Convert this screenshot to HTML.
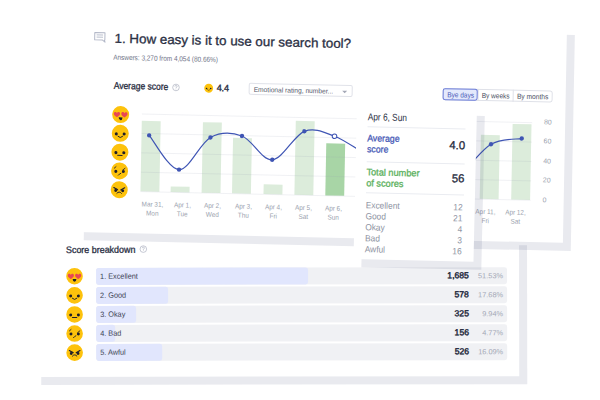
<!DOCTYPE html>
<html><head><meta charset="utf-8"><style>
html,body{margin:0;padding:0;background:#fff}
body{width:600px;height:400px;position:relative;overflow:hidden;font-family:"Liberation Sans", sans-serif}
</style></head><body>
<div style="position:absolute;left:33px;top:238px;width:486px;height:139px;transform:rotate(-0.1deg);transform-origin:0 0"><div style="position:absolute;left:8px;top:8px;width:486px;height:139px;background:rgba(25,35,90,0.095)"></div><div style="position:absolute;left:0;top:0;width:486px;height:139px;background:#fff"></div><div style="position:absolute;left:33.20px;top:7.19px;font-size:9.4px;line-height:9.4px;font-weight:400;color:#2b3044;white-space:nowrap;transform:scaleX(0.95);transform-origin:left 50%;-webkit-text-stroke:0.32px #2b3044;">Score breakdown</div><svg style="position:absolute;left:106.00px;top:7.20px;overflow:visible" width="8.60" height="8.60" viewBox="-4.3 -4.3 8.6 8.6"><circle cx="0" cy="0" r="3.3" fill="none" stroke="#aeb2c1" stroke-width="0.7"/><path d="M-1.1,-0.9 Q-1.1,-2 0,-2 Q1.1,-2 1.1,-1 Q1.1,-0.3 0,0.2 L0,0.8" fill="none" stroke="#aeb2c1" stroke-width="0.7"/><circle cx="0" cy="1.6" r="0.4" fill="#aeb2c1"/></svg><div style="position:absolute;left:62.5px;top:30.00px;width:411.5px;height:16.6px;background:#f0f1f4;border-radius:2.5px"></div><div style="position:absolute;left:62.5px;top:30.00px;width:212.05px;height:16.6px;background:#e1e6fd;border-radius:2.5px"></div><div style="position:absolute;left:67.00px;top:34.83px;font-size:7.7px;line-height:7.7px;font-weight:400;color:#3a3f52;white-space:nowrap;transform:scaleX(0.95);transform-origin:left 50%;">1. Excellent</div><div style="position:absolute;left:435.80px;top:33.87px;font-size:8.6px;line-height:8.6px;font-weight:400;color:#262b3d;white-space:nowrap;transform:translateX(-100%) scaleX(1.0);transform-origin:right 50%;-webkit-text-stroke:0.45px #262b3d;">1,685</div><div style="position:absolute;left:470.00px;top:34.99px;font-size:7.4px;line-height:7.4px;font-weight:400;color:#a3a7b4;white-space:nowrap;transform:translateX(-100%) scaleX(1.0);transform-origin:right 50%;">51.53%</div><div style="position:absolute;left:62.5px;top:49.10px;width:411.5px;height:16.6px;background:#f0f1f4;border-radius:2.5px"></div><div style="position:absolute;left:62.5px;top:49.10px;width:72.75px;height:16.6px;background:#e1e6fd;border-radius:2.5px"></div><div style="position:absolute;left:67.00px;top:53.93px;font-size:7.7px;line-height:7.7px;font-weight:400;color:#3a3f52;white-space:nowrap;transform:scaleX(0.95);transform-origin:left 50%;">2. Good</div><div style="position:absolute;left:435.80px;top:52.97px;font-size:8.6px;line-height:8.6px;font-weight:400;color:#262b3d;white-space:nowrap;transform:translateX(-100%) scaleX(1.0);transform-origin:right 50%;-webkit-text-stroke:0.45px #262b3d;">578</div><div style="position:absolute;left:470.00px;top:54.09px;font-size:7.4px;line-height:7.4px;font-weight:400;color:#a3a7b4;white-space:nowrap;transform:translateX(-100%) scaleX(1.0);transform-origin:right 50%;">17.68%</div><div style="position:absolute;left:62.5px;top:68.20px;width:411.5px;height:16.6px;background:#f0f1f4;border-radius:2.5px"></div><div style="position:absolute;left:62.5px;top:68.20px;width:40.90px;height:16.6px;background:#e1e6fd;border-radius:2.5px"></div><div style="position:absolute;left:67.00px;top:73.03px;font-size:7.7px;line-height:7.7px;font-weight:400;color:#3a3f52;white-space:nowrap;transform:scaleX(0.95);transform-origin:left 50%;">3. Okay</div><div style="position:absolute;left:435.80px;top:72.07px;font-size:8.6px;line-height:8.6px;font-weight:400;color:#262b3d;white-space:nowrap;transform:translateX(-100%) scaleX(1.0);transform-origin:right 50%;-webkit-text-stroke:0.45px #262b3d;">325</div><div style="position:absolute;left:470.00px;top:73.19px;font-size:7.4px;line-height:7.4px;font-weight:400;color:#a3a7b4;white-space:nowrap;transform:translateX(-100%) scaleX(1.0);transform-origin:right 50%;">9.94%</div><div style="position:absolute;left:62.5px;top:87.30px;width:411.5px;height:16.6px;background:#f0f1f4;border-radius:2.5px"></div><div style="position:absolute;left:62.5px;top:87.30px;width:19.63px;height:16.6px;background:#e1e6fd;border-radius:2.5px"></div><div style="position:absolute;left:67.00px;top:92.13px;font-size:7.7px;line-height:7.7px;font-weight:400;color:#3a3f52;white-space:nowrap;transform:scaleX(0.95);transform-origin:left 50%;">4. Bad</div><div style="position:absolute;left:435.80px;top:91.17px;font-size:8.6px;line-height:8.6px;font-weight:400;color:#262b3d;white-space:nowrap;transform:translateX(-100%) scaleX(1.0);transform-origin:right 50%;-webkit-text-stroke:0.45px #262b3d;">156</div><div style="position:absolute;left:470.00px;top:92.29px;font-size:7.4px;line-height:7.4px;font-weight:400;color:#a3a7b4;white-space:nowrap;transform:translateX(-100%) scaleX(1.0);transform-origin:right 50%;">4.77%</div><div style="position:absolute;left:62.5px;top:106.40px;width:411.5px;height:16.6px;background:#f0f1f4;border-radius:2.5px"></div><div style="position:absolute;left:62.5px;top:106.40px;width:66.21px;height:16.6px;background:#e1e6fd;border-radius:2.5px"></div><div style="position:absolute;left:67.00px;top:111.23px;font-size:7.7px;line-height:7.7px;font-weight:400;color:#3a3f52;white-space:nowrap;transform:scaleX(0.95);transform-origin:left 50%;">5. Awful</div><div style="position:absolute;left:435.80px;top:110.27px;font-size:8.6px;line-height:8.6px;font-weight:400;color:#262b3d;white-space:nowrap;transform:translateX(-100%) scaleX(1.0);transform-origin:right 50%;-webkit-text-stroke:0.45px #262b3d;">526</div><div style="position:absolute;left:470.00px;top:111.39px;font-size:7.4px;line-height:7.4px;font-weight:400;color:#a3a7b4;white-space:nowrap;transform:translateX(-100%) scaleX(1.0);transform-origin:right 50%;">16.09%</div><svg style="position:absolute;left:0;top:0;overflow:visible" width="486" height="139" viewBox="0 0 486 139"><g transform="translate(33.150,30.000) scale(0.8300)"><circle cx="10" cy="10" r="10" fill="#fdc20c"/><path transform="translate(5.6,10.0)" d="M0,-1.6 C-0.6,-3.4 -3.7,-3.6 -3.7,-0.9 C-3.7,1.1 -1.2,2.4 0,3.4 C1.2,2.4 3.7,1.1 3.7,-0.9 C3.7,-3.6 0.6,-3.4 0,-1.6Z" fill="#e84655"/><path transform="translate(14.4,10.0)" d="M0,-1.6 C-0.6,-3.4 -3.7,-3.6 -3.7,-0.9 C-3.7,1.1 -1.2,2.4 0,3.4 C1.2,2.4 3.7,1.1 3.7,-0.9 C3.7,-3.6 0.6,-3.4 0,-1.6Z" fill="#e84655"/><path d="M7.7,13.3 L12.3,13.3 Q12.0,16.6 10,16.6 Q8.0,16.6 7.7,13.3Z" fill="#1d1d2b"/></g><g transform="translate(33.150,49.100) scale(0.8300)"><circle cx="10" cy="10" r="10" fill="#fdc20c"/><circle cx="5.3" cy="10.7" r="1.8" fill="#1d1d2b"/><circle cx="14.6" cy="10.7" r="1.8" fill="#1d1d2b"/><path d="M7.3,13.6 Q10,16.6 12.8,13.6" stroke="#1d1d2b" stroke-width="1.15" fill="none" stroke-linecap="round" stroke-linejoin="round"/></g><g transform="translate(33.150,68.200) scale(0.8300)"><circle cx="10" cy="10" r="10" fill="#fdc20c"/><circle cx="5.3" cy="10.7" r="1.8" fill="#1d1d2b"/><circle cx="14.6" cy="10.7" r="1.8" fill="#1d1d2b"/><path d="M7.4,13.8 L12.6,13.8" stroke="#1d1d2b" stroke-width="1.25" fill="none" stroke-linecap="round" stroke-linejoin="round"/></g><g transform="translate(33.150,87.300) scale(0.8300)"><circle cx="10" cy="10" r="10" fill="#fdc20c"/><circle cx="5.6" cy="10.6" r="1.8" fill="#1d1d2b"/><circle cx="14.5" cy="10.6" r="1.8" fill="#1d1d2b"/><path d="M3.7,6.9 L5.7,5.1" stroke="#1d1d2b" stroke-width="1.0" fill="none" stroke-linecap="round" stroke-linejoin="round"/><path d="M13.6,8.9 L16.3,6.8" stroke="#1d1d2b" stroke-width="1.0" fill="none" stroke-linecap="round" stroke-linejoin="round"/><path d="M8.6,15.0 Q9.6,13.6 11.5,12.7" stroke="#1d1d2b" stroke-width="1.1" fill="none" stroke-linecap="round" stroke-linejoin="round"/></g><g transform="translate(33.150,106.400) scale(0.8300)"><circle cx="10" cy="10" r="10" fill="#fdc20c"/><circle cx="5.9" cy="11.0" r="1.75" fill="#1d1d2b"/><circle cx="14.1" cy="11.0" r="1.75" fill="#1d1d2b"/><path d="M3.2,7.3 L8.6,10.4 L8.2,9.2 Z" fill="#1d1d2b"/><path d="M3.6,7.5 L8.2,10.2" stroke="#1d1d2b" stroke-width="1.3" fill="none" stroke-linecap="round" stroke-linejoin="round"/><path d="M16.4,7.5 L11.8,10.2" stroke="#1d1d2b" stroke-width="1.3" fill="none" stroke-linecap="round" stroke-linejoin="round"/><path d="M7.3,14.2 Q8.5,12.6 10,12.8 Q11.5,12.6 12.7,14.2" stroke="#1d1d2b" stroke-width="1.15" fill="none" stroke-linecap="round" stroke-linejoin="round"/></g></svg></div><div style="position:absolute;left:80.3px;top:16.25px;width:486.6px;height:215.6px;transform:matrix(1,0.0222,-0.019,1,0,0);transform-origin:0 0"><div style="position:absolute;left:8px;top:8px;width:486.6px;height:215.6px;background:rgba(25,35,90,0.095)"></div><div style="position:absolute;left:0;top:0;width:486.6px;height:215.6px;background:#fff"></div><div style="position:absolute;left:0.8px;top:0.6px;width:0;height:0"><svg style="position:absolute;left:13.20px;top:14.40px" width="13" height="12" viewBox="0 0 13 12"><path d="M1.1,1.1 H11.3 V8.5 H10.9 L11.5,10.6 L9.0,8.5 H1.1 Z" fill="#fff" stroke="#b3b8c8" stroke-width="1.0" stroke-linejoin="round"/><path d="M3,3.5 H9.4 M3,5.7 H9.4" stroke="#b3b8c8" stroke-width="0.9"/></svg><div style="position:absolute;left:34.00px;top:14.25px;font-size:13px;line-height:13px;font-weight:400;color:#2b3044;white-space:nowrap;transform:scaleX(1.026);transform-origin:left 50%;-webkit-text-stroke:0.32px #2b3044;">1. How easy is it to use our search tool?</div><div style="position:absolute;left:33.30px;top:36.29px;font-size:7.4px;line-height:7.4px;font-weight:400;color:#6f7487;white-space:nowrap;transform:scaleX(0.87);transform-origin:left 50%;">Answers: 3,270 from 4,054 (80.66%)</div><div style="position:absolute;left:33.90px;top:63.12px;font-size:9.6px;line-height:9.6px;font-weight:400;color:#2b3044;white-space:nowrap;transform:scaleX(0.885);transform-origin:left 50%;-webkit-text-stroke:0.32px #2b3044;">Average score</div><svg style="position:absolute;left:92.00px;top:64.10px;overflow:visible" width="8.60" height="8.60" viewBox="-4.3 -4.3 8.6 8.6"><circle cx="0" cy="0" r="3.3" fill="none" stroke="#aeb2c1" stroke-width="0.7"/><path d="M-1.1,-0.9 Q-1.1,-2 0,-2 Q1.1,-2 1.1,-1 Q1.1,-0.3 0,0.2 L0,0.8" fill="none" stroke="#aeb2c1" stroke-width="0.7"/><circle cx="0" cy="1.6" r="0.4" fill="#aeb2c1"/></svg><div style="position:absolute;left:137.00px;top:63.79px;font-size:9.4px;line-height:9.4px;font-weight:400;color:#2b3044;white-space:nowrap;transform:scaleX(0.95);transform-origin:left 50%;-webkit-text-stroke:0.4px #2b3044;">4.4</div><div style="position:absolute;left:169.3px;top:62.6px;width:104px;height:12.2px;box-sizing:border-box;border:0.8px solid #e0e2e9;border-radius:2px;background:#fff"></div><div style="position:absolute;left:174.05px;top:65.31px;font-size:7.0px;line-height:7.0px;font-weight:400;color:#555a6c;white-space:nowrap;transform:scaleX(0.95);transform-origin:left 50%;">Emotional rating, number...</div><svg style="position:absolute;left:262.31px;top:67.06px" width="6" height="4" viewBox="0 0 6 4"><path d="M0.5,0.8 L5.5,0.8 L3,3.3Z" fill="#a4a8b6"/></svg><div style="position:absolute;left:363.5px;top:63.4px;width:110px;height:12.2px;box-sizing:border-box;border:0.8px solid #dfe1e8;border-radius:2.5px;background:#fff"></div><div style="position:absolute;left:398.6px;top:63.4px;width:0.8px;height:12.2px;background:#dfe1e8"></div><div style="position:absolute;left:433.4px;top:63.4px;width:0.8px;height:12.2px;background:#dfe1e8"></div><div style="position:absolute;left:363.5px;top:63.4px;width:35.1px;height:12.2px;box-sizing:border-box;border:0.9px solid #6a7bd8;border-radius:2.5px;background:#e4e9fc"></div><div style="position:absolute;left:381.00px;top:66.29px;font-size:7.4px;line-height:7.4px;font-weight:400;color:#4a5bb8;white-space:nowrap;transform:translateX(-50%) scaleX(0.88);transform-origin:center 50%;">Bye days</div><div style="position:absolute;left:416.00px;top:66.29px;font-size:7.4px;line-height:7.4px;font-weight:400;color:#4a4f62;white-space:nowrap;transform:translateX(-50%) scaleX(0.88);transform-origin:center 50%;">By weeks</div><div style="position:absolute;left:453.40px;top:66.29px;font-size:7.4px;line-height:7.4px;font-weight:400;color:#4a4f62;white-space:nowrap;transform:translateX(-50%) scaleX(0.9);transform-origin:center 50%;">By months</div><svg style="position:absolute;left:0;top:0" width="486.6" height="215.6" viewBox="0 0 486.6 215.6"><rect x="62.75" y="102.3" width="18.9" height="70.60" fill="#dcecdb"/><rect x="92.90" y="167.3" width="18.9" height="5.60" fill="#dcecdb"/><rect x="123.90" y="102.4" width="18.9" height="70.50" fill="#dcecdb"/><rect x="154.30" y="117.3" width="18.9" height="55.60" fill="#dcecdb"/><rect x="185.80" y="163.1" width="18.9" height="9.80" fill="#dcecdb"/><rect x="216.70" y="99.0" width="18.9" height="73.90" fill="#dcecdb"/><rect x="247.60" y="120.8" width="18.9" height="52.10" fill="#a8d5a6"/><rect x="278.30" y="129.5" width="18.9" height="43.40" fill="#dcecdb"/><rect x="309.20" y="139.5" width="18.9" height="33.40" fill="#dcecdb"/><rect x="340.20" y="149.5" width="18.9" height="23.40" fill="#dcecdb"/><rect x="371.10" y="159.5" width="18.9" height="13.40" fill="#dcecdb"/><rect x="402.00" y="108.8" width="18.9" height="64.10" fill="#dcecdb"/><rect x="433.50" y="97.3" width="18.9" height="75.60" fill="#dcecdb"/><line x1="62.8" y1="95.60" x2="453" y2="95.60" stroke="rgba(150,158,180,0.18)" stroke-width="0.8"/><line x1="62.8" y1="115.00" x2="453" y2="115.00" stroke="rgba(150,158,180,0.18)" stroke-width="0.8"/><line x1="62.8" y1="134.40" x2="453" y2="134.40" stroke="rgba(150,158,180,0.18)" stroke-width="0.8"/><line x1="62.8" y1="153.80" x2="453" y2="153.80" stroke="rgba(150,158,180,0.18)" stroke-width="0.8"/><line x1="62.8" y1="173.20" x2="453" y2="173.20" stroke="rgba(150,158,180,0.18)" stroke-width="0.8"/><path d="M70.40,116.80 C75.48,122.40 90.68,150.28 100.90,150.40 C111.12,150.52 121.32,123.35 131.70,117.50 C142.08,111.65 152.83,111.80 163.20,115.30 C173.57,118.80 183.52,139.50 193.90,138.50 C204.28,137.50 215.20,113.47 225.50,109.30 C235.80,105.13 245.50,109.97 255.70,113.50 C265.90,117.03 276.37,125.00 286.70,130.50 C297.03,136.00 307.35,142.67 317.70,146.50 C328.05,150.33 338.45,153.00 348.80,153.50 C359.15,154.00 369.22,155.40 379.80,149.50 C390.38,143.60 401.78,124.40 412.30,118.10 C422.82,111.80 437.80,112.77 442.90,111.70" fill="none" stroke="#3f55b4" stroke-width="1.2"/><circle cx="70.40" cy="116.80" r="2.2" fill="#3f55b4"/><circle cx="100.90" cy="150.40" r="2.2" fill="#3f55b4"/><circle cx="131.70" cy="117.50" r="2.2" fill="#3f55b4"/><circle cx="163.20" cy="115.30" r="2.2" fill="#3f55b4"/><circle cx="193.90" cy="138.50" r="2.2" fill="#3f55b4"/><circle cx="225.50" cy="109.30" r="2.2" fill="#3f55b4"/><circle cx="255.70" cy="113.50" r="2.3" fill="#fff" stroke="#3f55b4" stroke-width="1"/><circle cx="412.30" cy="118.10" r="2.2" fill="#3f55b4"/><circle cx="442.90" cy="111.70" r="2.2" fill="#3f55b4"/></svg><div style="position:absolute;left:75.00px;top:182.82px;font-size:7.0px;line-height:7.0px;font-weight:400;color:#9a9fae;white-space:nowrap;transform:translateX(-50%) scaleX(0.91);transform-origin:center 50%;">Mar 31,</div><div style="position:absolute;left:75.00px;top:191.12px;font-size:7.0px;line-height:7.0px;font-weight:400;color:#9a9fae;white-space:nowrap;transform:translateX(-50%) scaleX(0.91);transform-origin:center 50%;">Mon</div><div style="position:absolute;left:105.28px;top:182.82px;font-size:7.0px;line-height:7.0px;font-weight:400;color:#9a9fae;white-space:nowrap;transform:translateX(-50%) scaleX(0.91);transform-origin:center 50%;">Apr 1,</div><div style="position:absolute;left:105.28px;top:191.12px;font-size:7.0px;line-height:7.0px;font-weight:400;color:#9a9fae;white-space:nowrap;transform:translateX(-50%) scaleX(0.91);transform-origin:center 50%;">Tue</div><div style="position:absolute;left:135.56px;top:182.82px;font-size:7.0px;line-height:7.0px;font-weight:400;color:#9a9fae;white-space:nowrap;transform:translateX(-50%) scaleX(0.91);transform-origin:center 50%;">Apr 2,</div><div style="position:absolute;left:135.56px;top:191.12px;font-size:7.0px;line-height:7.0px;font-weight:400;color:#9a9fae;white-space:nowrap;transform:translateX(-50%) scaleX(0.91);transform-origin:center 50%;">Wed</div><div style="position:absolute;left:165.84px;top:182.82px;font-size:7.0px;line-height:7.0px;font-weight:400;color:#9a9fae;white-space:nowrap;transform:translateX(-50%) scaleX(0.91);transform-origin:center 50%;">Apr 3,</div><div style="position:absolute;left:165.84px;top:191.12px;font-size:7.0px;line-height:7.0px;font-weight:400;color:#9a9fae;white-space:nowrap;transform:translateX(-50%) scaleX(0.91);transform-origin:center 50%;">Thu</div><div style="position:absolute;left:196.12px;top:182.82px;font-size:7.0px;line-height:7.0px;font-weight:400;color:#9a9fae;white-space:nowrap;transform:translateX(-50%) scaleX(0.91);transform-origin:center 50%;">Apr 4,</div><div style="position:absolute;left:196.12px;top:191.12px;font-size:7.0px;line-height:7.0px;font-weight:400;color:#9a9fae;white-space:nowrap;transform:translateX(-50%) scaleX(0.91);transform-origin:center 50%;">Fri</div><div style="position:absolute;left:226.40px;top:182.82px;font-size:7.0px;line-height:7.0px;font-weight:400;color:#9a9fae;white-space:nowrap;transform:translateX(-50%) scaleX(0.91);transform-origin:center 50%;">Apr 5,</div><div style="position:absolute;left:226.40px;top:191.12px;font-size:7.0px;line-height:7.0px;font-weight:400;color:#9a9fae;white-space:nowrap;transform:translateX(-50%) scaleX(0.91);transform-origin:center 50%;">Sat</div><div style="position:absolute;left:256.68px;top:182.82px;font-size:7.0px;line-height:7.0px;font-weight:400;color:#9a9fae;white-space:nowrap;transform:translateX(-50%) scaleX(0.91);transform-origin:center 50%;">Apr 6,</div><div style="position:absolute;left:256.68px;top:191.12px;font-size:7.0px;line-height:7.0px;font-weight:400;color:#9a9fae;white-space:nowrap;transform:translateX(-50%) scaleX(0.91);transform-origin:center 50%;">Sun</div><div style="position:absolute;left:286.96px;top:182.82px;font-size:7.0px;line-height:7.0px;font-weight:400;color:#9a9fae;white-space:nowrap;transform:translateX(-50%) scaleX(0.91);transform-origin:center 50%;">Apr 7,</div><div style="position:absolute;left:286.96px;top:191.12px;font-size:7.0px;line-height:7.0px;font-weight:400;color:#9a9fae;white-space:nowrap;transform:translateX(-50%) scaleX(0.91);transform-origin:center 50%;">Mon</div><div style="position:absolute;left:317.24px;top:182.82px;font-size:7.0px;line-height:7.0px;font-weight:400;color:#9a9fae;white-space:nowrap;transform:translateX(-50%) scaleX(0.91);transform-origin:center 50%;">Apr 8,</div><div style="position:absolute;left:317.24px;top:191.12px;font-size:7.0px;line-height:7.0px;font-weight:400;color:#9a9fae;white-space:nowrap;transform:translateX(-50%) scaleX(0.91);transform-origin:center 50%;">Tue</div><div style="position:absolute;left:347.52px;top:182.82px;font-size:7.0px;line-height:7.0px;font-weight:400;color:#9a9fae;white-space:nowrap;transform:translateX(-50%) scaleX(0.91);transform-origin:center 50%;">Apr 9,</div><div style="position:absolute;left:347.52px;top:191.12px;font-size:7.0px;line-height:7.0px;font-weight:400;color:#9a9fae;white-space:nowrap;transform:translateX(-50%) scaleX(0.91);transform-origin:center 50%;">Wed</div><div style="position:absolute;left:377.80px;top:182.82px;font-size:7.0px;line-height:7.0px;font-weight:400;color:#9a9fae;white-space:nowrap;transform:translateX(-50%) scaleX(0.91);transform-origin:center 50%;">Apr 10,</div><div style="position:absolute;left:377.80px;top:191.12px;font-size:7.0px;line-height:7.0px;font-weight:400;color:#9a9fae;white-space:nowrap;transform:translateX(-50%) scaleX(0.91);transform-origin:center 50%;">Thu</div><div style="position:absolute;left:408.08px;top:182.82px;font-size:7.0px;line-height:7.0px;font-weight:400;color:#9a9fae;white-space:nowrap;transform:translateX(-50%) scaleX(0.91);transform-origin:center 50%;">Apr 11,</div><div style="position:absolute;left:408.08px;top:191.12px;font-size:7.0px;line-height:7.0px;font-weight:400;color:#9a9fae;white-space:nowrap;transform:translateX(-50%) scaleX(0.91);transform-origin:center 50%;">Fri</div><div style="position:absolute;left:438.36px;top:182.82px;font-size:7.0px;line-height:7.0px;font-weight:400;color:#9a9fae;white-space:nowrap;transform:translateX(-50%) scaleX(0.91);transform-origin:center 50%;">Apr 12,</div><div style="position:absolute;left:438.36px;top:191.12px;font-size:7.0px;line-height:7.0px;font-weight:400;color:#9a9fae;white-space:nowrap;transform:translateX(-50%) scaleX(0.91);transform-origin:center 50%;">Sat</div><div style="position:absolute;left:465.00px;top:91.42px;font-size:7.0px;line-height:7.0px;font-weight:400;color:#9a9fae;white-space:nowrap;transform:scaleX(1.0);transform-origin:left 50%;">80</div><div style="position:absolute;left:465.00px;top:110.82px;font-size:7.0px;line-height:7.0px;font-weight:400;color:#9a9fae;white-space:nowrap;transform:scaleX(1.0);transform-origin:left 50%;">60</div><div style="position:absolute;left:465.00px;top:130.22px;font-size:7.0px;line-height:7.0px;font-weight:400;color:#9a9fae;white-space:nowrap;transform:scaleX(1.0);transform-origin:left 50%;">40</div><div style="position:absolute;left:465.00px;top:149.62px;font-size:7.0px;line-height:7.0px;font-weight:400;color:#9a9fae;white-space:nowrap;transform:scaleX(1.0);transform-origin:left 50%;">20</div><div style="position:absolute;left:465.00px;top:169.02px;font-size:7.0px;line-height:7.0px;font-weight:400;color:#9a9fae;white-space:nowrap;transform:scaleX(1.0);transform-origin:left 50%;">0</div><svg style="position:absolute;left:0;top:0;overflow:visible" width="486.6" height="215.6" viewBox="0 0 486.6 215.6"><g transform="translate(124.550,63.850) scale(0.4450)"><circle cx="10" cy="10" r="10" fill="#fdc20c"/><circle cx="5.3" cy="10.7" r="1.8" fill="#1d1d2b"/><circle cx="14.6" cy="10.7" r="1.8" fill="#1d1d2b"/><path d="M7.3,13.6 Q10,16.6 12.8,13.6" stroke="#1d1d2b" stroke-width="1.15" fill="none" stroke-linecap="round" stroke-linejoin="round"/></g><g transform="translate(33.000,88.100) scale(0.8500)"><circle cx="10" cy="10" r="10" fill="#fdc20c"/><path transform="translate(5.6,10.0)" d="M0,-1.6 C-0.6,-3.4 -3.7,-3.6 -3.7,-0.9 C-3.7,1.1 -1.2,2.4 0,3.4 C1.2,2.4 3.7,1.1 3.7,-0.9 C3.7,-3.6 0.6,-3.4 0,-1.6Z" fill="#e84655"/><path transform="translate(14.4,10.0)" d="M0,-1.6 C-0.6,-3.4 -3.7,-3.6 -3.7,-0.9 C-3.7,1.1 -1.2,2.4 0,3.4 C1.2,2.4 3.7,1.1 3.7,-0.9 C3.7,-3.6 0.6,-3.4 0,-1.6Z" fill="#e84655"/><path d="M7.7,13.3 L12.3,13.3 Q12.0,16.6 10,16.6 Q8.0,16.6 7.7,13.3Z" fill="#1d1d2b"/></g><g transform="translate(33.000,106.900) scale(0.8500)"><circle cx="10" cy="10" r="10" fill="#fdc20c"/><circle cx="5.3" cy="10.7" r="1.8" fill="#1d1d2b"/><circle cx="14.6" cy="10.7" r="1.8" fill="#1d1d2b"/><path d="M7.3,13.6 Q10,16.6 12.8,13.6" stroke="#1d1d2b" stroke-width="1.15" fill="none" stroke-linecap="round" stroke-linejoin="round"/></g><g transform="translate(33.000,125.700) scale(0.8500)"><circle cx="10" cy="10" r="10" fill="#fdc20c"/><circle cx="5.3" cy="10.7" r="1.8" fill="#1d1d2b"/><circle cx="14.6" cy="10.7" r="1.8" fill="#1d1d2b"/><path d="M7.4,13.8 L12.6,13.8" stroke="#1d1d2b" stroke-width="1.25" fill="none" stroke-linecap="round" stroke-linejoin="round"/></g><g transform="translate(33.000,144.500) scale(0.8500)"><circle cx="10" cy="10" r="10" fill="#fdc20c"/><circle cx="5.6" cy="10.6" r="1.8" fill="#1d1d2b"/><circle cx="14.5" cy="10.6" r="1.8" fill="#1d1d2b"/><path d="M3.7,6.9 L5.7,5.1" stroke="#1d1d2b" stroke-width="1.0" fill="none" stroke-linecap="round" stroke-linejoin="round"/><path d="M13.6,8.9 L16.3,6.8" stroke="#1d1d2b" stroke-width="1.0" fill="none" stroke-linecap="round" stroke-linejoin="round"/><path d="M8.6,15.0 Q9.6,13.6 11.5,12.7" stroke="#1d1d2b" stroke-width="1.1" fill="none" stroke-linecap="round" stroke-linejoin="round"/></g><g transform="translate(33.000,163.300) scale(0.8500)"><circle cx="10" cy="10" r="10" fill="#fdc20c"/><circle cx="5.9" cy="11.0" r="1.75" fill="#1d1d2b"/><circle cx="14.1" cy="11.0" r="1.75" fill="#1d1d2b"/><path d="M3.2,7.3 L8.6,10.4 L8.2,9.2 Z" fill="#1d1d2b"/><path d="M3.6,7.5 L8.2,10.2" stroke="#1d1d2b" stroke-width="1.3" fill="none" stroke-linecap="round" stroke-linejoin="round"/><path d="M16.4,7.5 L11.8,10.2" stroke="#1d1d2b" stroke-width="1.3" fill="none" stroke-linecap="round" stroke-linejoin="round"/><path d="M7.3,14.2 Q8.5,12.6 10,12.8 Q11.5,12.6 12.7,14.2" stroke="#1d1d2b" stroke-width="1.15" fill="none" stroke-linecap="round" stroke-linejoin="round"/></g></svg></div></div><div style="position:absolute;left:357.0px;top:104.8px;width:120px;height:154.4px;transform:rotate(1.3deg);transform-origin:0 0"><div style="position:absolute;left:7.5px;top:7.5px;width:120px;height:154.4px;background:rgba(25,35,90,0.095)"></div><div style="position:absolute;left:0;top:0;width:120px;height:154.4px;background:#fff"></div><div style="position:absolute;left:11.30px;top:6.79px;font-size:10px;line-height:10px;font-weight:400;color:#2b3044;white-space:nowrap;transform:scaleX(0.83);transform-origin:left 50%;">Apr 6, Sun</div><div style="position:absolute;left:11px;top:21.10px;width:98px;height:1px;background:#eaecf1"></div><div style="position:absolute;left:11px;top:55.90px;width:98px;height:1px;background:#eaecf1"></div><div style="position:absolute;left:11px;top:87.30px;width:98px;height:1px;background:#eaecf1"></div><div style="position:absolute;left:10.80px;top:28.19px;font-size:9.4px;line-height:9.4px;font-weight:400;color:#4b5db8;white-space:nowrap;transform:scaleX(0.93);transform-origin:left 50%;-webkit-text-stroke:0.3px #4b5db8;">Average</div><div style="position:absolute;left:10.80px;top:38.59px;font-size:9.4px;line-height:9.4px;font-weight:400;color:#4b5db8;white-space:nowrap;transform:scaleX(0.93);transform-origin:left 50%;-webkit-text-stroke:0.3px #4b5db8;">score</div><div style="position:absolute;left:109.00px;top:32.33px;font-size:11.6px;line-height:11.6px;font-weight:400;color:#23283a;white-space:nowrap;transform:translateX(-100%) scaleX(0.98);transform-origin:right 50%;-webkit-text-stroke:0.3px #23283a;">4.0</div><div style="position:absolute;left:10.70px;top:62.39px;font-size:9.4px;line-height:9.4px;font-weight:400;color:#5cb15e;white-space:nowrap;transform:scaleX(0.98);transform-origin:left 50%;-webkit-text-stroke:0.3px #5cb15e;">Total number</div><div style="position:absolute;left:10.70px;top:72.69px;font-size:9.4px;line-height:9.4px;font-weight:400;color:#5cb15e;white-space:nowrap;transform:scaleX(0.98);transform-origin:left 50%;-webkit-text-stroke:0.3px #5cb15e;">of scores</div><div style="position:absolute;left:108.70px;top:65.43px;font-size:11.6px;line-height:11.6px;font-weight:400;color:#23283a;white-space:nowrap;transform:translateX(-100%) scaleX(0.98);transform-origin:right 50%;-webkit-text-stroke:0.3px #23283a;">56</div><div style="position:absolute;left:10.80px;top:95.73px;font-size:9.0px;line-height:9.0px;font-weight:400;color:#8e93a2;white-space:nowrap;transform:scaleX(0.93);transform-origin:left 50%;">Excellent</div><div style="position:absolute;left:108.40px;top:95.73px;font-size:9.0px;line-height:9.0px;font-weight:400;color:#8e93a2;white-space:nowrap;transform:translateX(-100%) scaleX(0.93);transform-origin:right 50%;">12</div><div style="position:absolute;left:10.80px;top:106.68px;font-size:9.0px;line-height:9.0px;font-weight:400;color:#8e93a2;white-space:nowrap;transform:scaleX(0.93);transform-origin:left 50%;">Good</div><div style="position:absolute;left:108.40px;top:106.68px;font-size:9.0px;line-height:9.0px;font-weight:400;color:#8e93a2;white-space:nowrap;transform:translateX(-100%) scaleX(0.93);transform-origin:right 50%;">21</div><div style="position:absolute;left:10.80px;top:117.63px;font-size:9.0px;line-height:9.0px;font-weight:400;color:#8e93a2;white-space:nowrap;transform:scaleX(0.93);transform-origin:left 50%;">Okay</div><div style="position:absolute;left:108.40px;top:117.63px;font-size:9.0px;line-height:9.0px;font-weight:400;color:#8e93a2;white-space:nowrap;transform:translateX(-100%) scaleX(0.93);transform-origin:right 50%;">4</div><div style="position:absolute;left:10.80px;top:128.58px;font-size:9.0px;line-height:9.0px;font-weight:400;color:#8e93a2;white-space:nowrap;transform:scaleX(0.93);transform-origin:left 50%;">Bad</div><div style="position:absolute;left:108.40px;top:128.58px;font-size:9.0px;line-height:9.0px;font-weight:400;color:#8e93a2;white-space:nowrap;transform:translateX(-100%) scaleX(0.93);transform-origin:right 50%;">3</div><div style="position:absolute;left:10.80px;top:139.53px;font-size:9.0px;line-height:9.0px;font-weight:400;color:#8e93a2;white-space:nowrap;transform:scaleX(0.93);transform-origin:left 50%;">Awful</div><div style="position:absolute;left:108.40px;top:139.53px;font-size:9.0px;line-height:9.0px;font-weight:400;color:#8e93a2;white-space:nowrap;transform:translateX(-100%) scaleX(0.93);transform-origin:right 50%;">16</div></div>
</body></html>
